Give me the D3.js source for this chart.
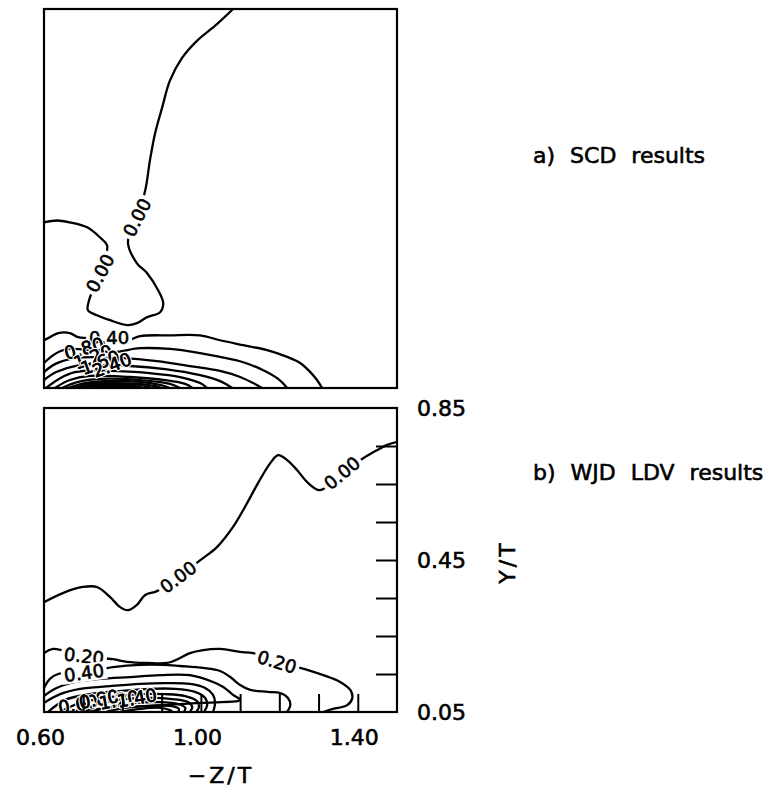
<!DOCTYPE html>
<html>
<head>
<meta charset="utf-8">
<script src="https://cdn.jsdelivr.net/npm/d3@7"></script>
<style>
  body { margin: 0; background: #fff; }
  svg { display: block; font-family: "DejaVu Sans", sans-serif; }
  .frame { fill: none; stroke: #000; stroke-width: 2.2; }
  .contour { fill: none; stroke: #000; stroke-width: 2.3; stroke-linejoin: round; }
  .tick line { stroke: #000; stroke-width: 2; }
  .txt { fill: #000; stroke: #000; stroke-width: 0.6; }
</style>
</head>
<body>
<svg id="chart" width="782" height="794"></svg>
<script>
// axis values
const xLabelTicks = [0.60, 1.00, 1.40];
const xMinorTicks = [0.7, 0.8, 0.9, 1.0, 1.1, 1.2, 1.3, 1.4];
const yLabelTicks = [0.05, 0.45, 0.85];
const yMinorTicks = [0.15, 0.25, 0.35, 0.45, 0.55, 0.65, 0.75];

// a) SCD results : contour levels and lines, [-Z/T, Y/T]
const scdLevels = [0.00, 0.40, 0.80, 1.20, 1.60, 2.00, 2.40, 2.80, 3.20, 3.60, 4.00, 4.40, 4.80];
const scdLines = [
  [[1.082,1.05],[1.041,1.01],[0.990,0.966],[0.952,0.921],[0.921,0.861],[0.901,0.789],[0.883,0.721],[0.870,0.650],[0.858,0.571],[0.837,0.50],[0.814,0.434],[0.837,0.379],[0.863,0.353],[0.891,0.308],[0.904,0.274],[0.896,0.25],[0.863,0.237],[0.837,0.221],[0.812,0.216],[0.768,0.229],[0.735,0.242],[0.712,0.255],[0.715,0.282],[0.743,0.353],[0.761,0.426],[0.743,0.447],[0.710,0.474],[0.666,0.487],[0.633,0.492],[0.60,0.487]],
  [[0.600,0.176],[0.615,0.184],[0.636,0.195],[0.666,0.195],[0.687,0.184],[0.710,0.182],[0.766,0.179],[0.814,0.176],[0.845,0.187],[0.921,0.189],[0.998,0.189],[1.049,0.176],[1.108,0.163],[1.169,0.150],[1.220,0.132],[1.253,0.116],[1.279,0.092],[1.296,0.071],[1.309,0.050]],
  [[0.600,0.116],[0.620,0.134],[0.641,0.147],[0.666,0.153],[0.776,0.145],[0.845,0.155],[0.921,0.153],[0.998,0.142],[1.049,0.132],[1.108,0.118],[1.159,0.097],[1.197,0.074],[1.220,0.050]],
  [[0.600,0.092],[0.628,0.113],[0.679,0.129],[0.802,0.129],[0.888,0.121],[0.972,0.108],[1.049,0.095],[1.100,0.079],[1.133,0.063],[1.156,0.050]],
  [[0.600,0.071],[0.631,0.092],[0.679,0.108],[0.819,0.108],[0.909,0.100],[0.998,0.084],[1.049,0.068],[1.080,0.050]],
  [[0.605,0.050],[0.641,0.076],[0.679,0.092],[0.768,0.095],[0.870,0.089],[0.947,0.079],[0.998,0.063],[1.016,0.050]],
  [[0.628,0.050],[0.666,0.071],[0.717,0.082],[0.819,0.079],[0.909,0.071],[0.960,0.061],[0.978,0.050]],
  [[0.646,0.050],[0.687,0.066],[0.743,0.074],[0.845,0.071],[0.921,0.061],[0.947,0.050]],
  [[0.661,0.050],[0.705,0.063],[0.756,0.068],[0.845,0.066],[0.896,0.058],[0.921,0.050]],
  [[0.677,0.050],[0.717,0.061],[0.768,0.063],[0.845,0.061],[0.883,0.055],[0.901,0.050]],
  [[0.692,0.050],[0.730,0.058],[0.781,0.061],[0.845,0.058],[0.876,0.050]],
  [[0.707,0.050],[0.743,0.055],[0.794,0.058],[0.832,0.055],[0.855,0.050]],
  [[0.722,0.050],[0.756,0.054],[0.794,0.055],[0.819,0.053],[0.835,0.050]]
];
// label text, position, angle, gap in line
const scdLabels = [
  ["0.00", 0.837, 0.500, -63, true],
  ["0.00", 0.743, 0.353, -62, true],
  ["0.40", 0.766, 0.182, 0, true],
  ["0.80", 0.702, 0.155, -15, false],
  ["1.20", 0.725, 0.132, -20, false],
  ["1.60", 0.743, 0.118, -20, false],
  ["2.40", 0.773, 0.111, -20, false]
];

// b) WJD LDV results
const wjdLevels = [0.00, 0.20, 0.40, 0.60, 0.80, 1.00, 1.20, 1.40, 1.60, 1.80, 2.00];
const wjdLines = [
  [[0.600,0.339],[0.648,0.363],[0.699,0.379],[0.735,0.379],[0.768,0.353],[0.794,0.326],[0.814,0.318],[0.837,0.332],[0.858,0.358],[0.888,0.368],[0.942,0.405],[1.003,0.453],[1.041,0.484],[1.082,0.537],[1.118,0.600],[1.146,0.653],[1.177,0.705],[1.197,0.726],[1.220,0.713],[1.245,0.687],[1.273,0.653],[1.304,0.634],[1.360,0.679],[1.414,0.718],[1.449,0.739],[1.475,0.753],[1.500,0.761]],
  [[0.600,0.205],[0.623,0.216],[0.702,0.197],[0.776,0.189],[0.812,0.182],[0.863,0.179],[0.914,0.179],[0.947,0.192],[0.972,0.205],[1.006,0.213],[1.049,0.216],[1.100,0.208],[1.133,0.205],[1.194,0.182],[1.271,0.161],[1.312,0.147],[1.355,0.129],[1.381,0.108],[1.386,0.087],[1.373,0.068],[1.337,0.058],[1.312,0.050]],
  [[0.600,0.113],[0.615,0.137],[0.636,0.150],[0.702,0.155],[0.776,0.168],[0.845,0.174],[0.904,0.174],[0.947,0.171],[1.006,0.166],[1.049,0.158],[1.075,0.142],[1.100,0.121],[1.126,0.108],[1.171,0.103],[1.202,0.100],[1.222,0.087],[1.228,0.068],[1.220,0.050]],
  [[0.600,0.092],[0.628,0.111],[0.666,0.126],[0.743,0.137],[0.819,0.142],[0.896,0.147],[0.972,0.147],[1.031,0.129],[1.057,0.116],[1.082,0.095],[1.100,0.082],[0.998,0.074],[0.870,0.066],[0.743,0.058],[0.654,0.050]],
  [[0.600,0.074],[0.641,0.097],[0.692,0.111],[0.768,0.118],[0.845,0.124],[0.909,0.126],[0.972,0.124],[1.011,0.113],[1.031,0.095],[1.036,0.074],[1.031,0.050]],
  [[0.610,0.050],[0.654,0.082],[0.717,0.097],[0.794,0.105],[0.870,0.111],[0.934,0.111],[0.985,0.103],[1.011,0.087],[1.016,0.068],[1.008,0.050]],
  [[0.641,0.050],[0.692,0.074],[0.768,0.089],[0.845,0.097],[0.909,0.097],[0.960,0.092],[0.990,0.079],[0.995,0.063],[0.988,0.050]],
  [[0.679,0.050],[0.730,0.068],[0.794,0.082],[0.870,0.087],[0.927,0.084],[0.967,0.076],[0.978,0.063],[0.972,0.050]],
  [[0.717,0.050],[0.768,0.063],[0.832,0.074],[0.896,0.076],[0.942,0.071],[0.960,0.061],[0.957,0.050]],
  [[0.756,0.050],[0.806,0.061],[0.870,0.066],[0.921,0.066],[0.944,0.058],[0.942,0.050]],
  [[0.794,0.050],[0.845,0.058],[0.896,0.061],[0.921,0.055],[0.927,0.050]]
];
const wjdLabels = [
  ["0.00", 0.942, 0.405, -37, true],
  ["0.00", 1.360, 0.679, -39, true],
  ["0.20", 0.702, 0.197, 7, true],
  ["0.20", 1.194, 0.182, 17, true],
  ["0.40", 0.702, 0.153, -8, true],
  ["0.60", 0.687, 0.071, -10, false],
  ["0.80", 0.740, 0.084, -10, false],
  ["1.20", 0.791, 0.082, -10, false],
  ["1.40", 0.837, 0.087, -10, false]
];

const svg = d3.select('#chart');

const x = d3.scaleLinear().domain([0.6, 1.5]).range([44, 397]);
const yA = d3.scaleLinear().domain([0.05, 1.05]).range([388, 9]);
const yB = d3.scaleLinear().domain([0.05, 0.85]).range([712, 408]);

// draw one contour panel
const drawPanel = (id, y, lines, labels) => {
  const [y0, y1] = y.range();
  svg.append('clipPath').attr('id', `clip-${id}`)
    .append('rect')
    .attr('x', x.range()[0]).attr('y', y1)
    .attr('width', x.range()[1] - x.range()[0]).attr('height', y0 - y1);

  const g = svg.append('g').attr('clip-path', `url(#clip-${id})`);
  const line = d3.line()
    .x(d => x(d[0]))
    .y(d => y(d[1]))
    .curve(d3.curveCatmullRom.alpha(0.5));

  g.selectAll('.contour')
    .data(lines)
    .enter().append('path')
    .attr('class', 'contour')
    .attr('d', line);

  const lab = g.selectAll('.clabel')
    .data(labels)
    .enter().append('g')
    .attr('class', 'clabel')
    .attr('transform', d => `translate(${x(d[1])},${y(d[2])}) rotate(${d[3]})`);

  // white gaps first, then all label texts on top
  lab.filter(d => d[4]).append('rect')
    .attr('x', -23).attr('y', -9)
    .attr('width', 46).attr('height', 18)
    .attr('fill', '#fff');

  lab.append('text')
    .attr('text-anchor', 'middle')
    .attr('dy', '0.36em')
    .attr('font-size', 18)
    .attr('fill', '#000')
    .attr('stroke', d => d[4] ? '#000' : '#fff')
    .attr('stroke-width', d => d[4] ? 0.6 : 3)
    .attr('paint-order', 'stroke')
    .text(d => d[0]);

  // black outline again on halo labels
  lab.filter(d => !d[4]).append('text')
    .attr('text-anchor', 'middle')
    .attr('dy', '0.36em')
    .attr('font-size', 18)
    .attr('fill', '#000')
    .attr('stroke', '#000')
    .attr('stroke-width', 0.6)
    .text(d => d[0]);

  svg.append('rect')
    .attr('class', 'frame')
    .attr('x', x.range()[0]).attr('y', y1)
    .attr('width', x.range()[1] - x.range()[0]).attr('height', y0 - y1);
};

drawPanel('a', yA, scdLines, scdLabels);
drawPanel('b', yB, wjdLines, wjdLabels);

// inner ticks on the lower panel
svg.append('g')
  .attr('transform', 'translate(0,712)')
  .call(d3.axisTop(x).tickValues(xMinorTicks).tickSize(18).tickFormat(''))
  .call(g => g.select('.domain').remove());

svg.append('g')
  .attr('transform', 'translate(397,0)')
  .call(d3.axisLeft(yB).tickValues(yMinorTicks).tickSize(21).tickFormat(''))
  .call(g => g.select('.domain').remove());

// tick labels
svg.append('g')
  .attr('transform', 'translate(0,712)')
  .call(d3.axisBottom(x).tickValues(xLabelTicks).tickSize(0).tickPadding(17).tickFormat(d3.format('.2f')))
  .call(g => g.select('.domain').remove())
  .call(g => g.selectAll('text')
    .attr('class', 'txt')
    .attr('x', -4)
    .attr('font-family', '"DejaVu Sans", sans-serif')
    .attr('font-size', 22));

svg.append('g')
  .attr('transform', 'translate(397,0)')
  .call(d3.axisRight(yB).tickValues(yLabelTicks).tickSize(0).tickPadding(20).tickFormat(d3.format('.2f')))
  .call(g => g.select('.domain').remove())
  .call(g => g.selectAll('text')
    .attr('class', 'txt')
    .attr('font-family', '"DejaVu Sans", sans-serif')
    .attr('font-size', 22));

// axis titles
svg.append('text')
  .attr('class', 'txt')
  .attr('x', 221).attr('y', 783)
  .attr('text-anchor', 'middle')
  .attr('font-size', 22)
  .attr('letter-spacing', 3)
  .text('\u2212Z/T');

svg.append('text')
  .attr('class', 'txt')
  .attr('transform', 'translate(515,562) rotate(-90)')
  .attr('text-anchor', 'middle')
  .attr('font-size', 22)
  .attr('letter-spacing', 3)
  .text('Y/T');

// panel captions
svg.append('text')
  .attr('class', 'txt')
  .attr('x', 533).attr('y', 163)
  .attr('font-size', 22)
  .attr('word-spacing', 8)
  .text('a) SCD results');

svg.append('text')
  .attr('class', 'txt')
  .attr('x', 533).attr('y', 480)
  .attr('font-size', 22)
  .attr('word-spacing', 8)
  .text('b) WJD LDV results');
</script>
</body>
</html>
